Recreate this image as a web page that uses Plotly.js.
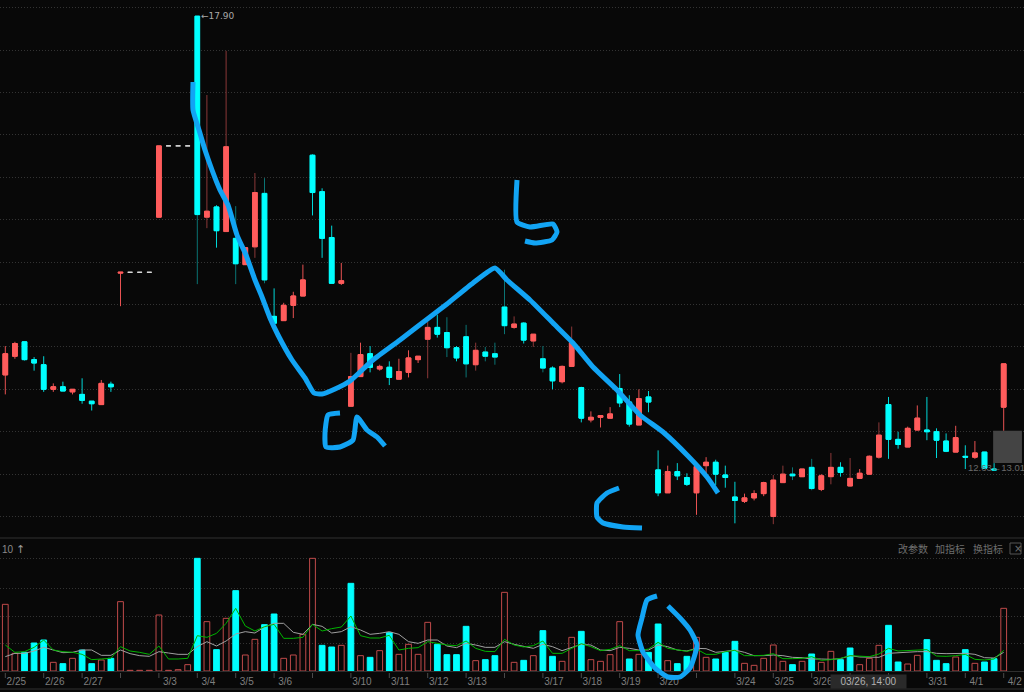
<!DOCTYPE html>
<html><head><meta charset="utf-8">
<script src="https://cdn.plot.ly/plotly-3.0.1.min.js"></script>
<style>html,body{margin:0;padding:0;background:#080808;overflow:hidden}#c{width:1024px;height:692px}</style>
</head><body><div id="c"></div>
<script>
const open_ = [13.67,13.89,14.06,13.85,13.79,13.50,13.53,13.47,13.44,13.36,13.32,13.56,14.87,14.88,14.88,14.88,15.53,16.37,16.37,16.37,17.90,15.53,15.65,15.36,15.28,14.97,15.18,15.81,14.36,14.31,14.49,14.60,16.26,15.83,15.29,14.75,13.30,13.65,13.92,13.74,13.76,13.62,13.70,13.85,14.09,14.23,14.17,13.99,14.12,13.79,13.94,13.92,14.47,14.23,14.28,14.07,13.86,13.75,13.59,13.77,13.52,13.14,13.17,13.16,13.51,13.35,13.08,13.41,12.55,12.28,12.53,12.46,12.28,12.60,12.64,12.49,12.23,12.18,12.22,12.27,12.00,12.40,12.50,12.47,12.58,12.32,12.47,12.58,12.36,12.45,12.50,12.70,13.32,12.91,12.82,13.02,13.02,13.00,12.89,12.76,12.71,12.70,12.76,12.56,13.29];
const close_ = [13.92,14.04,13.85,13.81,13.50,13.53,13.48,13.50,13.37,13.33,13.57,13.53,14.88,14.88,14.88,14.88,16.37,16.37,16.37,16.37,15.56,15.60,15.37,16.36,14.98,15.17,15.82,14.79,14.28,14.49,14.60,14.79,15.82,15.28,14.75,14.78,13.65,13.91,13.76,13.77,13.64,13.71,13.87,13.89,14.23,14.15,13.99,13.87,13.80,13.96,13.89,13.88,14.25,14.27,14.08,14.15,13.75,13.60,13.77,14.05,13.16,13.17,13.19,13.21,13.34,13.09,13.39,13.35,12.28,12.53,12.48,12.38,12.59,12.64,12.50,12.46,12.19,12.22,12.27,12.40,12.43,12.50,12.48,12.56,12.33,12.48,12.58,12.52,12.45,12.51,12.71,12.96,12.91,12.85,13.04,13.16,13.00,12.90,12.77,12.93,12.70,12.75,12.57,12.55,13.80];
const high_ = [14.01,14.06,14.06,13.88,13.89,13.57,13.59,13.50,13.63,13.36,13.61,13.59,14.88,14.88,14.88,14.88,16.37,16.37,16.37,16.37,17.90,16.97,15.67,17.49,15.66,15.17,16.05,15.99,14.69,14.52,14.65,14.97,16.27,15.87,15.43,14.99,13.93,14.05,14.01,13.79,13.83,13.86,13.96,13.89,14.30,14.38,14.35,14.01,14.26,14.05,14.00,14.05,14.91,14.36,14.29,14.15,14.01,13.77,13.78,14.24,13.53,13.24,13.19,13.29,13.68,13.43,13.50,13.48,12.78,12.60,12.63,12.51,12.60,12.70,12.67,12.60,12.41,12.27,12.31,12.41,12.49,12.60,12.58,12.56,12.68,12.50,12.75,12.64,12.69,12.56,12.72,13.11,13.41,13.00,13.06,13.31,13.41,13.04,12.98,13.07,12.84,12.89,12.76,12.63,13.80];
const low_ = [13.44,13.86,13.84,13.72,13.47,13.47,13.48,13.44,13.33,13.25,13.32,13.47,14.48,14.88,14.88,14.88,15.53,16.37,16.37,16.37,14.74,15.40,15.17,15.36,14.74,14.97,15.05,14.75,14.20,14.31,14.34,14.60,15.55,15.05,14.75,14.73,13.30,13.65,13.70,13.72,13.55,13.62,13.64,13.81,13.63,14.11,13.88,13.83,13.64,13.72,13.83,13.79,14.15,14.21,14.04,14.00,13.70,13.50,13.57,13.77,13.11,13.11,13.05,13.16,13.29,13.06,13.08,13.23,12.24,12.28,12.43,12.36,12.02,12.49,12.37,12.34,11.92,12.16,12.19,12.24,11.91,12.40,12.43,12.47,12.31,12.30,12.38,12.47,12.35,12.45,12.50,12.68,12.68,12.80,12.82,13.02,12.90,12.69,12.76,12.76,12.56,12.68,12.56,12.54,13.01];
const dojiBars = [13,14,15,17,18,19];
const dimWicks = [20,21,23,24,26,27,36,44,46,48,49,50,51,52,53,55,56,59,80,81,82,84,86,88,91];
const volume = [200,53,56,84,93,26,22,38,63,22,33,38,208,2,2,2,168,2,4,19,338,148,64,158,241,48,95,139,171,38,48,110,338,77,72,77,263,46,41,61,115,50,80,50,146,80,49,49,134,31,34,46,236,26,32,46,121,44,29,101,119,34,29,49,148,36,50,56,141,31,22,44,101,41,36,56,89,23,17,38,78,29,19,29,51,26,59,34,69,19,38,77,137,27,21,47,94,32,22,42,64,23,27,37,188];
const volDownBars = [2,3,4,6,8,9,11,20,22,24,27,28,33,34,36,38,40,45,46,47,48,50,51,54,56,57,60,65,67,68,70,71,74,75,76,82,84,87,88,92,93,96,97,98,100,102,103];
const maFast = [78,56,58,71,93,63,58,56,50,34,36,38,73,60,56,50,75,36,36,38,106,101,113,143,188,135,120,133,140,98,98,101,140,120,127,132,165,106,99,99,107,63,68,70,88,82,78,76,90,68,59,58,95,78,72,76,90,53,53,68,82,73,61,65,76,61,61,66,86,68,63,59,66,50,50,58,62,46,46,47,52,37,37,38,43,32,34,38,46,44,43,51,68,60,62,62,64,45,44,46,50,35,33,36,62];
const maSlow = [43,53,53,60,71,63,55,56,63,63,47,47,63,52,46,44,58,54,50,50,73,88,75,90,111,118,114,132,143,143,116,110,140,134,114,118,133,123,110,113,118,110,88,83,93,93,75,70,83,78,71,71,88,80,73,68,80,73,61,70,80,78,63,61,71,68,63,63,78,73,63,60,68,67,56,59,63,56,46,46,48,46,41,40,36,36,35,37,46,42,41,41,53,55,55,58,58,53,52,53,53,50,40,39,56];
const dayStarts = [0,4,8,12,16,20,24,28,32,36,40,44,48,52,56,60,64,68,72,76,80,84,88,92,96,100,104];
const labelBars = [0,4,8,16,20,24,28,36,40,44,48,56,60,64,68,76,80,84,96,100,104];
const dateLabels = ['2/25','2/26','2/27','3/3','3/4','3/5','3/6','3/10','3/11','3/12','3/13','3/17','3/18','3/19','3/20','3/24','3/25','3/26','3/31','4/1','4/2'];
const priceGrid = [12,12.5,13,13.5,14,14.5,15,15.5,16,16.5,17,17.5,18];
const volGrid = [83,165,248,338];

// hand-drawn pen strokes, in the 1024x692 picture frame of the overlay axes
const penStrokes = [
 [[193,82],[193,110],[199,130],[205,150],[212,170],[220,190],[228,205],[237,235],[246,255],[255,280],[262,297],[270,318],[278,335],[292,360],[305,378],[314,393],[322,394],[335,389],[350,381],[373,360],[400,340],[430,317],[447,304],[473,283],[495,268],[507,280],[530,300],[553,323],[573,343],[593,367],[617,390],[640,415],[663,432],[688,456],[707,477],[718,493]],
 [[340,413],[328,415],[325,433],[326,447],[340,447],[353,440],[357,417],[367,430],[377,437],[385,446]],
 [[517,180],[517,222],[530,227],[553,224],[557,232],[552,240],[535,243],[525,241]],
 [[619,488],[607,493],[597,503],[597,517],[603,523],[623,527],[642,528]],
 [[668,606],[680,618],[690,630],[697,645],[690,668],[680,677],[668,677],[655,668],[643,652],[638,635],[642,618],[647,600],[657,596]]
];

const idx = open_.map((_, i) => i);
const isDoji = i => dojiBars.includes(i);
const pick = (arr, list) => list.map(i => arr[i]);
const brightList = idx.filter(i => !isDoji(i) && !dimWicks.includes(i));
const bodyList = idx.filter(i => !isDoji(i));
const CY = '#00ffff', RD = '#ff5c5c';
const frame = {xaxis:'x', yaxis:'y', type:'candlestick', hoverinfo:'skip', showlegend:false};

const traces = [
 Object.assign({}, frame, {name:'wick', x:brightList, open:pick(open_,brightList), high:pick(high_,brightList), low:pick(low_,brightList), close:pick(close_,brightList),
   increasing:{line:{color:'#e85252',width:1},fillcolor:RD}, decreasing:{line:{color:'#00d8d8',width:1},fillcolor:CY}}),
 Object.assign({}, frame, {name:'wick dim', x:dimWicks, open:pick(open_,dimWicks), high:pick(high_,dimWicks), low:pick(low_,dimWicks), close:pick(close_,dimWicks),
   increasing:{line:{color:'#8a3838',width:1},fillcolor:RD}, decreasing:{line:{color:'#0b7474',width:1},fillcolor:CY}}),
 Object.assign({}, frame, {name:'body', x:bodyList, open:pick(open_,bodyList), close:pick(close_,bodyList),
   high:bodyList.map(i=>Math.max(open_[i],close_[i])), low:bodyList.map(i=>Math.min(open_[i],close_[i])),
   increasing:{line:{color:RD,width:1},fillcolor:RD}, decreasing:{line:{color:CY,width:1},fillcolor:CY}}),
 Object.assign({}, frame, {name:'limit', x:dojiBars, open:pick(open_,dojiBars), high:pick(high_,dojiBars), low:pick(low_,dojiBars), close:pick(close_,dojiBars),
   increasing:{line:{color:'#d8d8d8',width:1},fillcolor:'#d8d8d8'}, decreasing:{line:{color:'#d8d8d8',width:1},fillcolor:'#d8d8d8'}}),
 {type:'bar', x:idx, y:volume, xaxis:'x2', yaxis:'y2', width:0.6, hoverinfo:'skip', showlegend:false,
   marker:{color:idx.map(i=>volDownBars.includes(i)?CY:'rgba(0,0,0,0)'), line:{width:1,color:idx.map(i=>volDownBars.includes(i)?CY:'#c04a4a')}}},
 {type:'scatter', mode:'lines', x:idx, y:maSlow, xaxis:'x2', yaxis:'y2', line:{color:'#a0a0a0',width:1}, hoverinfo:'skip', showlegend:false},
 {type:'scatter', mode:'lines', x:idx, y:maFast, xaxis:'x2', yaxis:'y2', line:{color:'#00b400',width:1}, hoverinfo:'skip', showlegend:false}
];
penStrokes.forEach(s => traces.push({type:'scatter', mode:'lines', x:s.map(p=>p[0]), y:s.map(p=>p[1]), xaxis:'x3', yaxis:'y3',
  line:{color:'#12a4f4',width:5,shape:'spline',smoothing:0.5}, hoverinfo:'skip', showlegend:false}));

const xRange = [-0.552, 106.115];
const H = 692;
const shapes = dayStarts.map(i => ({type:'line', xref:'x2', yref:'paper', x0:i, x1:i, y0:(H-673)/H, y1:(H-678)/H, line:{color:'#4a4a4a',width:1}}));
shapes.push({type:'rect', xref:'paper', yref:'paper', x0:0, x1:1, y0:(H-539)/H, y1:(H-537)/H, fillcolor:'#1c1c1c', line:{width:0}});
shapes.push({type:'rect', xref:'paper', yref:'paper', x0:0, x1:1, y0:(H-690)/H, y1:(H-688)/H, fillcolor:'#1c1c1c', line:{width:0}});
shapes.push({type:'rect', xref:'x', yref:'y', x0:102.9, x1:105.9, y0:12.63, y1:13.01, fillcolor:'#444444', line:{width:0}, layer:'above'});
shapes.push({type:'rect', xref:'paper', yref:'paper', x0:1010/1024, x1:1021/1024, y0:(H-554)/H, y1:(H-543)/H, line:{color:'#555555',width:1}});

const cjk = '"Noto Sans CJK SC"';
const small = (text,x,y,extra) => Object.assign({xref:'paper', yref:'paper', x:x/1024, y:(H-y)/H, text, showarrow:false, xanchor:'left', yanchor:'middle',
   font:{family:'Liberation Sans',size:10,color:'#8a8a8a'}}, extra||{});
const annotations = [
 {xref:'x', yref:'y', x:20.15, y:17.90, text:'←17.90', showarrow:false, xanchor:'left', yanchor:'middle', font:{family:'DejaVu Sans',size:9,color:'#a8a8a8'}},
 small('12.63←13.01',966,468,{font:{family:'Liberation Sans',size:9.5,color:'#6a6a6a'}}),
 small('10',0,549),
 small('↑',14,549,{font:{family:'DejaVu Sans',size:11,color:'#9a9a9a'}}),
 small('改参数',896,548,{font:{family:cjk,size:10,color:'#6e6e6e'}}),
 small('加指标',933,548,{font:{family:cjk,size:10,color:'#6e6e6e'}}),
 small('换指标',971,548,{font:{family:cjk,size:10,color:'#6e6e6e'}}),
 small('×',1012,548.5,{font:{family:'DejaVu Sans',size:10,color:'#6e6e6e'}}),
 {xref:'paper', yref:'paper', x:868.5/1024, y:(H-681.5)/H, text:'03/26, 14:00', showarrow:false, xanchor:'center', yanchor:'middle', bgcolor:'#2a2a2a', width:75, height:13, borderpad:0,
   font:{family:'Liberation Sans',size:10,color:'#b0b0b0'}}
];

const layout = {
 width:1024, height:692, margin:{l:0,r:0,t:0,b:0}, paper_bgcolor:'#080808', plot_bgcolor:'rgba(0,0,0,0)', showlegend:false, boxgap:0.3, hovermode:false,
 xaxis:{domain:[0,1], range:xRange, visible:false, fixedrange:true, rangeslider:{visible:false}, anchor:'y'},
 yaxis:{domain:[(H-538)/H,1], range:[11.747,18.09], tickvals:priceGrid, showticklabels:false, ticks:'', showgrid:true, griddash:'1px,2px', gridcolor:'#333333', gridwidth:1, zeroline:false, showline:false, fixedrange:true, anchor:'x'},
 xaxis2:{domain:[0,1], range:xRange, anchor:'y2', tickmode:'array', tickvals:labelBars.map(i=>i+1.15), ticktext:dateLabels, ticks:'outside', ticklen:1, tickcolor:'rgba(0,0,0,0)', showgrid:false, zeroline:false, showline:true, linecolor:'#2e2e2e', tickfont:{family:'Liberation Sans',size:10,color:'#7e7e7e'}, tickangle:0, fixedrange:true, rangeslider:{visible:false}},
 yaxis2:{domain:[(H-671)/H,(H-540)/H], range:[0,393], tickvals:volGrid, showticklabels:false, ticks:'', showgrid:true, griddash:'1px,2px', gridcolor:'#333333', gridwidth:1, zeroline:false, showline:false, fixedrange:true, anchor:'x2'},
 xaxis3:{domain:[0,1], range:[0,1024], visible:false, anchor:'y3', fixedrange:true},
 yaxis3:{domain:[0,1], range:[692,0], visible:false, anchor:'x3', fixedrange:true},
 shapes, annotations
};
Plotly.newPlot('c', traces, layout, {displayModeBar:false, staticPlot:true});
</script></body></html>
